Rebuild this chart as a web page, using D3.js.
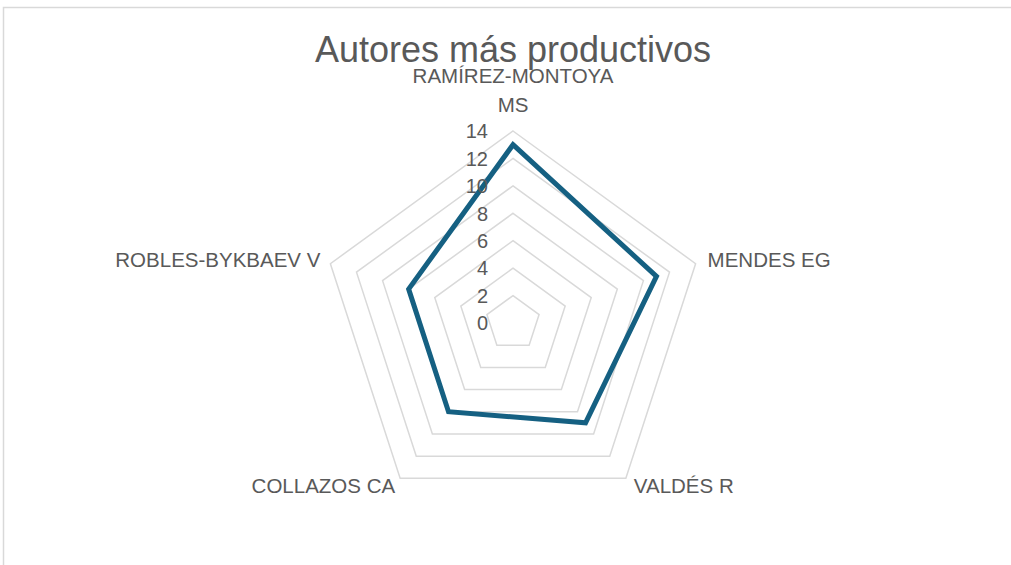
<!DOCTYPE html>
<html lang="es">
<head>
<meta charset="UTF-8">
<title>Autores más productivos</title>
<script src="https://d3js.org/d3.v7.min.js"></script>
<style>
    body { margin: 0; background: #fff; font-family: "Liberation Sans", Arial, sans-serif; }
    text { fill: #595959; }
</style>
</head>
<body>
<div id="chart"></div>
<script>
    const categories = ["RAMÍREZ-MONTOYA MS", "MENDES EG", "VALDÉS R", "COLLAZOS CA", "ROBLES-BYKBAEV V"];
    const values = [13, 11, 9, 8, 8];
    const ticks = [0, 2, 4, 6, 8, 10, 12, 14];

    const width = 1011, height = 565;
    const cx = 513, cy = 323, radius = 192;

    const svg = d3.select("#chart").append("svg")
        .attr("width", width)
        .attr("height", height);

    // chart area border
    svg.append("rect")
        .attr("x", 3.5).attr("y", 7.5)
        .attr("width", width + 10).attr("height", height + 10)
        .attr("fill", "none")
        .attr("stroke", "#d9d9d9")
        .attr("stroke-width", 1.5);

    svg.append("text")
        .attr("x", cx).attr("y", 62)
        .attr("text-anchor", "middle")
        .style("font-size", "36px")
        .text("Autores más productivos");

    const r = d3.scaleLinear().domain([0, 14]).range([0, radius]);
    const angle = d3.scalePoint().domain(d3.range(categories.length + 1)).range([0, 2 * Math.PI]);

    const g = svg.append("g").attr("transform", "translate(" + cx + "," + cy + ")");

    const radial = d3.lineRadial()
        .angle((d, i) => angle(i))
        .curve(d3.curveLinearClosed);

    // grid pentagons
    g.selectAll(".grid")
        .data(ticks.filter(t => t > 0))
        .enter().append("path")
        .attr("class", "grid")
        .attr("d", t => radial.radius(() => r(t))(categories))
        .attr("fill", "none")
        .attr("stroke", "#d9d9d9")
        .attr("stroke-width", 1.5);

    // data line
    g.append("path")
        .datum(values)
        .attr("d", radial.radius(d => r(d)))
        .attr("fill", "none")
        .attr("stroke", "#156082")
        .attr("stroke-width", 5)
        .attr("stroke-linejoin", "miter");

    // tick labels
    g.selectAll(".tick")
        .data(ticks)
        .enter().append("text")
        .attr("class", "tick")
        .attr("x", -25)
        .attr("y", t => -r(t))
        .attr("dy", "0.36em")
        .attr("text-anchor", "end")
        .style("font-size", "20px")
        .text(d => d);

    // category labels
    categories.forEach((c, i) => {
        const a = angle(i);
        const sx = Math.sin(a), sy = -Math.cos(a);
        const px = sx * radius, py = sy * radius;
        const t = g.append("text").style("font-size", "20.5px");
        if (Math.abs(sx) < 0.01) {
            // top: wrapped into two lines
            const words = c.split(" ");
            const last = words.pop();
            t.attr("text-anchor", "middle");
            t.append("tspan").attr("x", 0).attr("y", py - 48).text(words.join(" "));
            t.append("tspan").attr("x", 0).attr("y", py - 19).text(last);
        } else if (sy < 0) {
            t.attr("text-anchor", sx > 0 ? "start" : "end")
                .attr("x", px + (sx > 0 ? 12 : -10))
                .attr("y", py + 3)
                .text(c);
        } else {
            t.attr("text-anchor", sx > 0 ? "start" : "end")
                .attr("x", px + (sx > 0 ? 8 : -5))
                .attr("y", py + 15)
                .text(c);
        }
    });
</script>
</body>
</html>
